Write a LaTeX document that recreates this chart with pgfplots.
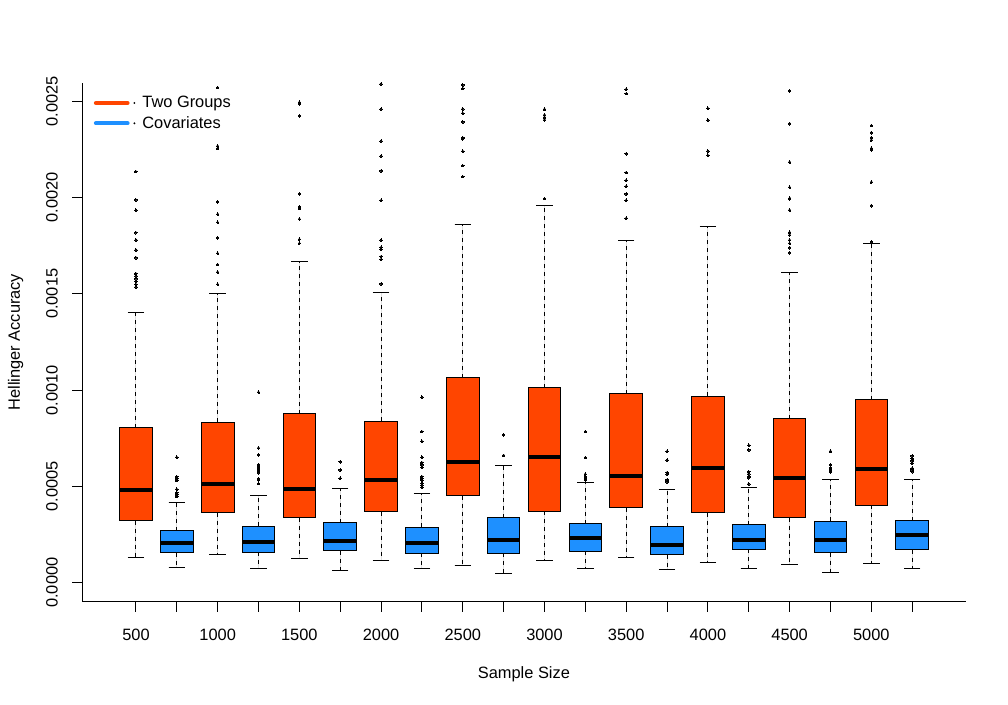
\documentclass[border=0pt]{standalone}
\usepackage{pgfplots}
\pgfplotsset{compat=1.18}
\usepgfplotslibrary{statistics}
\usepackage{fontspec}
\setmainfont{Liberation Sans}
\definecolor{orR}{RGB}{255,69,0}
\definecolor{dgB}{RGB}{30,144,255}
\newcommand{\lblfont}{\fontsize{12.3}{14.5}\selectfont}
% values are given in units of 10^-3 (Hellinger accuracy x 1000)
\pgfplotsset{
  rbox/.style={
    boxplot/draw direction=y,
    boxplot/box extend=0.8,
    boxplot/whisker extend=0.4,
    draw=black, line width=0.75pt,
    mark=*, mark size=1pt, mark options={fill=black, draw=black, solid, line width=0pt},
    boxplot/every median/.style={line width=3pt, black},
    boxplot/draw/lower whisker/.code={%
      \draw[black, line width=0.75pt, dash pattern=on 3pt off 3pt]
        (boxplot box cs:\pgfplotsboxplotvalue{lower quartile},0.5) --
        (boxplot box cs:\pgfplotsboxplotvalue{lower whisker},0.5);
      \draw[black, line width=0.75pt]
        (boxplot whisker cs:\pgfplotsboxplotvalue{lower whisker},0) --
        (boxplot whisker cs:\pgfplotsboxplotvalue{lower whisker},1);
    },
    boxplot/draw/upper whisker/.code={%
      \draw[black, line width=0.75pt, dash pattern=on 3pt off 3pt]
        (boxplot box cs:\pgfplotsboxplotvalue{upper quartile},0.5) --
        (boxplot box cs:\pgfplotsboxplotvalue{upper whisker},0.5);
      \draw[black, line width=0.75pt]
        (boxplot whisker cs:\pgfplotsboxplotvalue{upper whisker},0) --
        (boxplot whisker cs:\pgfplotsboxplotvalue{upper whisker},1);
    },
  },
  obox/.style={rbox, fill=orR},
  bbox/.style={rbox, fill=dgB},
}
\begin{document}
\begin{tikzpicture}
\path[use as bounding box] (0,0) rectangle (756pt,528.75pt);
\begin{axis}[
  at={(61.7pt,77.5pt)}, anchor=south west,
  scale only axis, width=662.5pt, height=389.25pt,
  xmin=-0.314, xmax=21.307, ymin=-0.0987, ymax=2.596,
  clip=false,
  axis x line*=bottom, axis y line*=left,
  axis line style={line width=0.75pt, black, -},
  tick align=outside, major tick length=7.5pt,
  tick style={line width=0.75pt, black},
  xtick={1,2,3,4,5,6,7,8,9,10,11,12,13,14,15,16,17,18,19,20},
  xticklabels={500,,1000,,1500,,2000,,2500,,3000,,3500,,4000,,4500,,5000,},
  ytick={0,0.5,1,1.5,2,2.5},
  yticklabels={0.0000,0.0005,0.0010,0.0015,0.0020,0.0025},
  scaled y ticks=false, scaled x ticks=false,
  ticklabel style={font=\lblfont},
  xticklabel style={anchor=base},
  yticklabel style={rotate=90, anchor=base},
  xticklabel shift=22pt, yticklabel shift=11pt,
  xlabel={Sample Size}, ylabel={Hellinger Accuracy},
  xlabel style={font=\lblfont, at={(axis description cs:0.5,0)}, anchor=base, yshift=-58pt},
  ylabel style={font=\lblfont, at={([xshift=-46.7pt]axis description cs:0,0.5)}, anchor=base},
  legend style={draw=none, fill=none, at={([xshift=8.5pt,yshift=-8pt]rel axis cs:0,1)}, anchor=north west, font=\lblfont, row sep=1pt, inner sep=0pt},
  legend cell align=left,
]
\addlegendimage{orR, solid, no markers, legend image code/.code={%
  \draw[draw=orR, fill=none, line width=3pt, line cap=round] (0.6pt,0pt) -- (24.4pt,0pt);
  \fill[fill=black, draw=none] (29.5pt,0pt) circle (0.8pt);
  \path[draw=none, fill=none] (0pt,0pt) -- (33.5pt,0pt);}}
\addlegendentry{Two Groups}
\addlegendimage{dgB, solid, no markers, legend image code/.code={%
  \draw[draw=dgB, fill=none, line width=3pt, line cap=round] (0.6pt,0pt) -- (24.4pt,0pt);
  \fill[fill=black, draw=none] (29.5pt,0pt) circle (0.8pt);
  \path[draw=none, fill=none] (0pt,0pt) -- (33.5pt,0pt);}}
\addlegendentry{Covariates}

\addplot[obox, forget plot, boxplot prepared={draw position=1, lower whisker=0.130, lower quartile=0.322, median=0.483, upper quartile=0.803, upper whisker=1.405}]
  table[row sep=\\, y index=0] {v\\ 2.134\\ 1.987\\ 1.934\\ 1.817\\ 1.779\\ 1.727\\ 1.687\\ 1.604\\ 1.592\\ 1.578\\ 1.563\\ 1.549\\ 1.535\\};
\addplot[bbox, forget plot, boxplot prepared={draw position=2, lower whisker=0.0763, lower quartile=0.154, median=0.206, upper quartile=0.270, upper whisker=0.415}]
  table[row sep=\\, y index=0] {v\\ 0.651\\ 0.550\\ 0.540\\ 0.530\\ 0.485\\ 0.467\\ 0.457\\ 0.447\\};
\addplot[obox, forget plot, boxplot prepared={draw position=3, lower whisker=0.145, lower quartile=0.363, median=0.514, upper quartile=0.833, upper whisker=1.500}]
  table[row sep=\\, y index=0] {v\\ 2.570\\ 2.267\\ 2.255\\ 1.977\\ 1.913\\ 1.871\\ 1.790\\ 1.710\\ 1.651\\ 1.612\\ 1.549\\};
\addplot[bbox, forget plot, boxplot prepared={draw position=4, lower whisker=0.0711, lower quartile=0.158, median=0.213, upper quartile=0.293, upper whisker=0.452}]
  table[row sep=\\, y index=0] {v\\ 0.989\\ 0.699\\ 0.663\\ 0.613\\ 0.602\\ 0.592\\ 0.581\\ 0.571\\ 0.540\\ 0.533\\ 0.514\\};
\addplot[obox, forget plot, boxplot prepared={draw position=5, lower whisker=0.125, lower quartile=0.336, median=0.488, upper quartile=0.877, upper whisker=1.667}]
  table[row sep=\\, y index=0] {v\\ 2.494\\ 2.485\\ 2.423\\ 2.018\\ 1.951\\ 1.942\\ 1.888\\ 1.783\\ 1.762\\};
\addplot[bbox, forget plot, boxplot prepared={draw position=6, lower whisker=0.0644, lower quartile=0.165, median=0.218, upper quartile=0.312, upper whisker=0.488}]
  table[row sep=\\, y index=0] {v\\ 0.628\\ 0.585\\ 0.542\\};
\addplot[obox, forget plot, boxplot prepared={draw position=7, lower whisker=0.113, lower quartile=0.367, median=0.535, upper quartile=0.838, upper whisker=1.508}]
  table[row sep=\\, y index=0] {v\\ 2.589\\ 2.459\\ 2.293\\ 2.215\\ 2.138\\ 1.985\\ 1.778\\ 1.741\\ 1.731\\ 1.693\\ 1.679\\ 1.551\\};
\addplot[bbox, forget plot, boxplot prepared={draw position=8, lower whisker=0.0727, lower quartile=0.153, median=0.205, upper quartile=0.288, upper whisker=0.462}]
  table[row sep=\\, y index=0] {v\\ 0.963\\ 0.784\\ 0.734\\ 0.651\\ 0.623\\ 0.611\\ 0.599\\ 0.550\\ 0.540\\ 0.530\\ 0.516\\ 0.506\\ 0.495\\};
\addplot[obox, forget plot, boxplot prepared={draw position=9, lower whisker=0.0903, lower quartile=0.452, median=0.625, upper quartile=1.064, upper whisker=1.859}]
  table[row sep=\\, y index=0] {v\\ 2.584\\ 2.565\\ 2.459\\ 2.437\\ 2.392\\ 2.310\\ 2.305\\ 2.240\\ 2.165\\ 2.108\\};
\addplot[bbox, forget plot, boxplot prepared={draw position=10, lower whisker=0.0488, lower quartile=0.153, median=0.220, upper quartile=0.337, upper whisker=0.607}]
  table[row sep=\\, y index=0] {v\\ 0.767\\ 0.661\\};
\addplot[obox, forget plot, boxplot prepared={draw position=11, lower whisker=0.113, lower quartile=0.371, median=0.653, upper quartile=1.011, upper whisker=1.957}]
  table[row sep=\\, y index=0] {v\\ 2.458\\ 2.428\\ 2.416\\ 2.402\\ 1.994\\};
\addplot[bbox, forget plot, boxplot prepared={draw position=12, lower whisker=0.0727, lower quartile=0.163, median=0.234, upper quartile=0.305, upper whisker=0.519}]
  table[row sep=\\, y index=0] {v\\ 0.784\\ 0.649\\ 0.563\\ 0.550\\ 0.540\\ 0.533\\};
\addplot[obox, forget plot, boxplot prepared={draw position=13, lower whisker=0.128, lower quartile=0.388, median=0.556, upper quartile=0.981, upper whisker=1.776}]
  table[row sep=\\, y index=0] {v\\ 2.562\\ 2.539\\ 2.227\\ 2.129\\ 2.089\\ 2.058\\ 2.018\\ 1.985\\ 1.892\\};
\addplot[bbox, forget plot, boxplot prepared={draw position=14, lower whisker=0.0675, lower quartile=0.145, median=0.194, upper quartile=0.291, upper whisker=0.485}]
  table[row sep=\\, y index=0] {v\\ 0.682\\ 0.636\\ 0.571\\ 0.563\\ 0.533\\ 0.523\\};
\addplot[obox, forget plot, boxplot prepared={draw position=15, lower whisker=0.104, lower quartile=0.363, median=0.597, upper quartile=0.969, upper whisker=1.848}]
  table[row sep=\\, y index=0] {v\\ 2.463\\ 2.401\\ 2.241\\ 2.219\\};
\addplot[bbox, forget plot, boxplot prepared={draw position=16, lower whisker=0.0711, lower quartile=0.173, median=0.222, upper quartile=0.301, upper whisker=0.493}]
  table[row sep=\\, y index=0] {v\\ 0.713\\ 0.689\\ 0.576\\ 0.564\\ 0.552\\ 0.544\\ 0.512\\};
\addplot[obox, forget plot, boxplot prepared={draw position=17, lower whisker=0.0955, lower quartile=0.337, median=0.544, upper quartile=0.851, upper whisker=1.612}]
  table[row sep=\\, y index=0] {v\\ 2.553\\ 2.383\\ 2.183\\ 2.053\\ 1.996\\ 1.992\\ 1.934\\ 1.819\\ 1.805\\ 1.779\\ 1.762\\ 1.739\\ 1.713\\};
\addplot[bbox, forget plot, boxplot prepared={draw position=18, lower whisker=0.0504, lower quartile=0.156, median=0.222, upper quartile=0.319, upper whisker=0.538}]
  table[row sep=\\, y index=0] {v\\ 0.682\\ 0.611\\ 0.597\\ 0.585\\ 0.575\\};
\addplot[obox, forget plot, boxplot prepared={draw position=19, lower whisker=0.0971, lower quartile=0.403, median=0.590, upper quartile=0.949, upper whisker=1.760}]
  table[row sep=\\, y index=0] {v\\ 2.373\\ 2.336\\ 2.310\\ 2.298\\ 2.255\\ 2.247\\ 2.080\\ 1.957\\ 1.770\\};
\addplot[bbox, forget plot, boxplot prepared={draw position=20, lower whisker=0.0727, lower quartile=0.170, median=0.246, upper quartile=0.322, upper whisker=0.535}]
  table[row sep=\\, y index=0] {v\\ 0.658\\ 0.644\\ 0.632\\ 0.620\\ 0.594\\ 0.585\\ 0.576\\};
\end{axis}
\end{tikzpicture}
\end{document}
